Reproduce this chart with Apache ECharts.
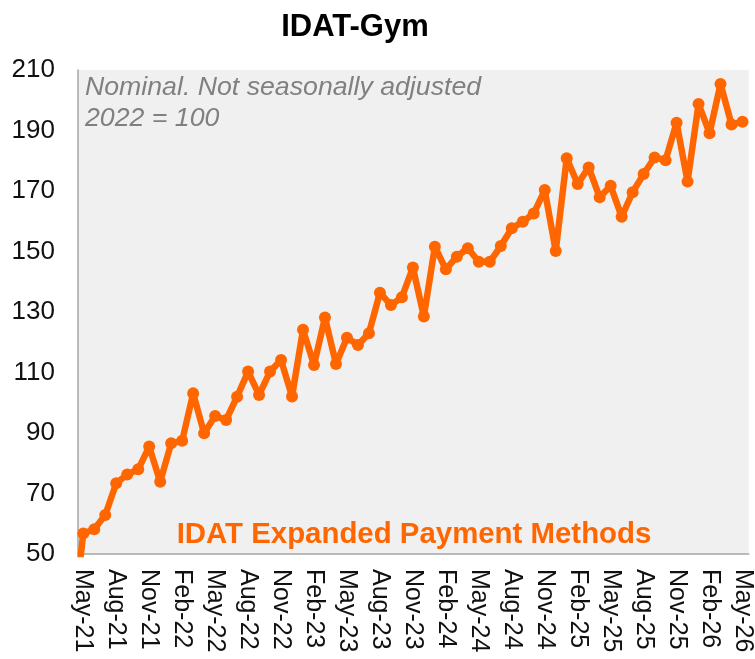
<!DOCTYPE html>
<html>
<head>
<meta charset="utf-8">
<script src="https://cdn.jsdelivr.net/npm/echarts@6/dist/echarts.min.js"></script>
<style>
html, body { margin: 0; padding: 0; background: #fff; }
#chart { width: 755px; height: 659px; }
</style>
</head>
<body>
<div id="chart"></div>
<script>
// months, Apr-21 sits just left of the plot and is clipped
var months = ['Apr-21',
	'May-21','Jun-21','Jul-21','Aug-21','Sep-21','Oct-21','Nov-21','Dec-21',
	'Jan-22','Feb-22','Mar-22','Apr-22','May-22','Jun-22','Jul-22','Aug-22','Sep-22','Oct-22','Nov-22','Dec-22',
	'Jan-23','Feb-23','Mar-23','Apr-23','May-23','Jun-23','Jul-23','Aug-23','Sep-23','Oct-23','Nov-23','Dec-23',
	'Jan-24','Feb-24','Mar-24','Apr-24','May-24','Jun-24','Jul-24','Aug-24','Sep-24','Oct-24','Nov-24','Dec-24',
	'Jan-25','Feb-25','Mar-25','Apr-25','May-25','Jun-25','Jul-25','Aug-25','Sep-25','Oct-25','Nov-25','Dec-25',
	'Jan-26','Feb-26','Mar-26','Apr-26','May-26'];

// IDAT expanded payment methods, 2022 = 100
var idatValues = [25,
	56.8, 58.2, 62.9, 73.4, 76.3, 78.0, 85.5, 73.9,
	86.6, 87.4, 103.1, 89.9, 95.6, 94.3, 102.0, 110.3, 102.6, 110.3, 114.1, 102.1,
	124.1, 112.5, 128.2, 112.8, 121.5, 119.1, 123.0, 136.4, 132.3, 134.9, 144.7, 128.5,
	151.6, 144.1, 148.3, 151.1, 146.6, 146.6, 151.8, 157.7, 159.8, 162.6, 170.3, 150.2,
	180.8, 172.3, 177.8, 167.9, 171.7, 161.5, 169.6, 175.6, 181.1, 180.2, 192.6, 173.1,
	198.8, 189.1, 205.4, 192.0, 192.9];

// labelled months (every third)
var tickLabels = ['May-21','Aug-21','Nov-21','Feb-22','May-22','Aug-22','Nov-22','Feb-23','May-23',
	'Aug-23','Nov-23','Feb-24','May-24','Aug-24','Nov-24','Feb-25','May-25','Aug-25','Nov-25','Feb-26','May-26'];

var yTicks = [50, 70, 90, 110, 130, 150, 170, 190, 210];

var tickPos = tickLabels.map(function(t) { return months.indexOf(t); });
var seriesData = idatValues.map(function(v, i) { return [i, v]; });

var chart = echarts.init(document.getElementById('chart'));
var FONT = '"Liberation Sans", Arial, sans-serif';

var option = {
	animation: false,
	backgroundColor: '#ffffff',
	grid: {
		left: 78, right: 6, top: 70, bottom: 105,
		show: true,
		backgroundColor: '#f0f0f0',
		borderWidth: 0
	},
	xAxis: {
		type: 'value',
		min: 0.52,
		max: 61.57,
		splitLine: { show: false },
		axisTick: { show: false },
		axisLine: { show: true, onZero: false, lineStyle: { color: '#a6a6a6', width: 1.5 } },
		axisLabel: {
			customValues: tickPos,
			rotate: -90,
			margin: 15,
			fontFamily: FONT,
			fontSize: 25,
			color: '#111',
			formatter: function(v) { return months[Math.round(v)]; }
		}
	},
	yAxis: {
		type: 'value',
		min: yTicks[0],
		max: yTicks[yTicks.length - 1],
		interval: 20,
		splitLine: { show: false },
		axisTick: { show: false },
		axisLine: { show: true, lineStyle: { color: '#a6a6a6', width: 1.5 } },
		axisLabel: {
			margin: 23,
			fontFamily: FONT,
			fontSize: 26,
			color: '#111'
		}
	},
	series: [{
		name: 'IDAT Expanded Payment Methods',
		type: 'line',
		data: seriesData,
		clip: true,
		symbol: 'circle',
		symbolSize: 12,
		lineStyle: { color: '#ff6600', width: 6.5 },
		itemStyle: { color: '#ff6600' }
	}],
	graphic: [
		{
			type: 'text', x: 355, y: 27,
			style: {
				text: 'IDAT-Gym', fill: '#000',
				font: 'bold 31px ' + FONT,
				textAlign: 'center', textVerticalAlign: 'middle'
			}
		},
		{
			type: 'text', x: 85, y: 72,
			style: {
				text: 'Nominal. Not seasonally adjusted\n2022 = 100', fill: '#808080',
				font: 'italic 26.7px ' + FONT, lineHeight: 31,
				textAlign: 'left', textVerticalAlign: 'top'
			}
		},
		{
			type: 'text', x: 414, y: 535,
			style: {
				text: 'IDAT Expanded Payment Methods', fill: '#ff6600',
				font: 'bold 29.4px ' + FONT,
				textAlign: 'center', textVerticalAlign: 'middle'
			}
		}
	]
};

chart.setOption(option);
window.onresize = function() {
	chart.resize();
};
</script>
</body>
</html>
